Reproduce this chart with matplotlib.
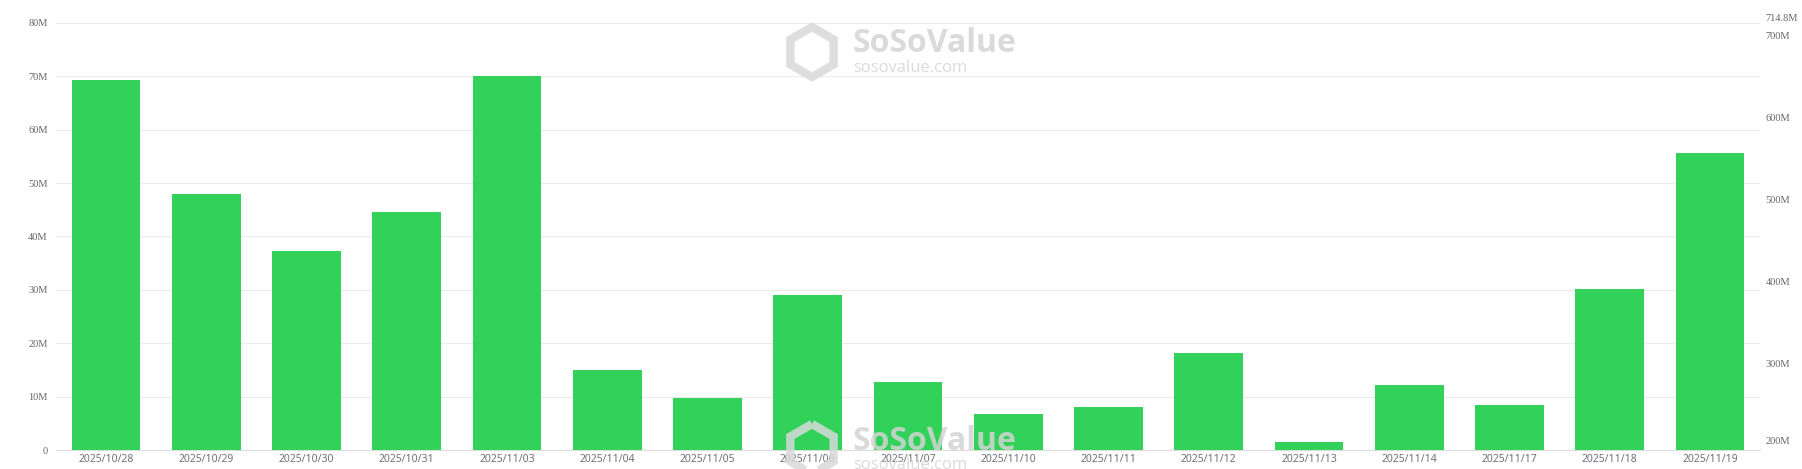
import matplotlib
matplotlib.use("Agg")
import matplotlib.pyplot as plt
from matplotlib.patches import RegularPolygon

dates = ["2025/10/28", "2025/10/29", "2025/10/30", "2025/10/31", "2025/11/03",
         "2025/11/04", "2025/11/05", "2025/11/06", "2025/11/07", "2025/11/10",
         "2025/11/11", "2025/11/12", "2025/11/13", "2025/11/14", "2025/11/17",
         "2025/11/18", "2025/11/19"]
inflow_m = [69.4, 47.9, 37.3, 44.6, 70.1, 14.9, 9.7, 29.1, 12.7, 6.7,
            8.0, 18.1, 1.5, 12.1, 8.4, 30.2, 55.6]
left_ticks = [0, 10, 20, 30, 40, 50, 60, 70, 80]
right_ticks = [200, 300, 400, 500, 600, 700, 714.8]

W, H = 1802, 469
fig = plt.figure(figsize=(W / 100, H / 100), dpi=100)
ax = fig.add_axes([56 / W, 19 / H, 1704 / W, 427 / H])

x = list(range(len(dates)))
ax.bar(x, inflow_m, width=0.685, color="#32d15a", zorder=3)
ax.set_xlim(-0.5, len(dates) - 0.5)
ax.set_ylim(0, 80)
ax.set_yticks(left_ticks)
ax.set_yticklabels(["0"] + [f"{v}M" for v in left_ticks[1:]],
                   family="Liberation Serif", fontsize=7.5, color="#666666")
ax.set_xticks(x)
ax.set_xticklabels(dates, family="Noto Sans", fontsize=7.5, color="#6e7079")
ax.tick_params(axis="both", length=0)
ax.tick_params(axis="y", pad=6)
ax.tick_params(axis="x", pad=3)
ax.grid(axis="y", color="#ebebeb", linewidth=0.8, zorder=0)
for s in ["top", "right", "left"]:
    ax.spines[s].set_visible(False)
ax.spines["bottom"].set_color("#dcdcdc")
ax.spines["bottom"].set_linewidth(0.8)

ax2 = ax.twinx()
ax2.set_ylim(194.8, 714.8)
ax2.set_yticks(right_ticks)
ax2.set_yticklabels([f"{v:g}M" for v in right_ticks],
                    family="Liberation Serif", fontsize=7.5, color="#666666")
ax2.tick_params(axis="y", length=0, pad=4)
ax2.get_yticklabels()[0].set_va("bottom")
ax2.get_yticklabels()[-1].set_va("bottom")
for s in ax2.spines.values():
    s.set_visible(False)

# watermarks (top and bottom)
for dy in [0, 397]:
    fig.patches.append(RegularPolygon((812, H - 52 - dy), numVertices=6, radius=25,
                                      transform=None, facecolor="none",
                                      edgecolor="#d9d9d9", linewidth=6,
                                      alpha=0.85, figure=fig, zorder=5))
    fig.text(852 / W, 1 - (44 + dy) / H, "SoSoValue", fontsize=23, fontweight="bold",
             family="Open Sans", color="#d4d4d4", alpha=0.85, va="center", ha="left")
    fig.text(853 / W, 1 - (68 + dy) / H, "sosovalue.com", fontsize=12,
             family="Open Sans", color="#d4d4d4", alpha=0.85, va="center", ha="left")

fig.savefig("out.png", dpi=100)
